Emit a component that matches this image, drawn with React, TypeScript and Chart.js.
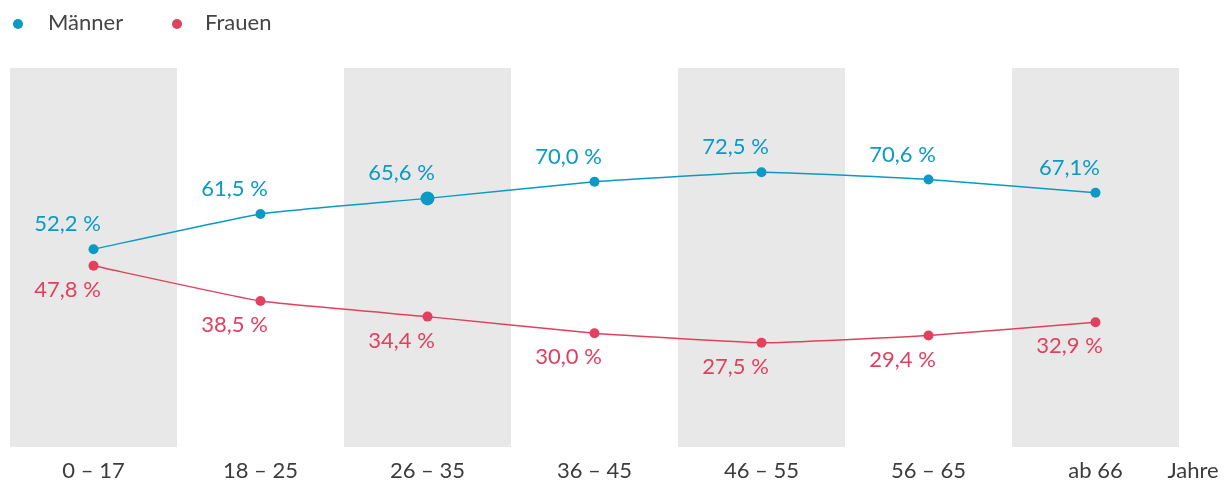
import React, { useEffect, useRef } from "react";
import { Chart, registerables } from "chart.js";
Chart.register(...registerables);

const categories = ["0 – 17", "18 – 25", "26 – 35", "36 – 45", "46 – 55", "56 – 65", "ab 66"];
const maenner = [52.2, 61.5, 65.6, 70.0, 72.5, 70.6, 67.1];
const frauen = [47.8, 38.5, 34.4, 30.0, 27.5, 29.4, 32.9];
const maennerLabels = ["52,2 %", "61,5 %", "65,6 %", "70,0 %", "72,5 %", "70,6 %", "67,1%"];
const frauenLabels = ["47,8 %", "38,5 %", "34,4 %", "30,0 %", "27,5 %", "29,4 %", "32,9 %"];
const shadedCategories = [0, 2, 4, 6];
const axisTitle = "Jahre";

const BLUE = "#0a9ac5";
const RED = "#e0415f";
const BAND = "#e8e8e8";
const TEXT = "#3c3c3c";
const FONT = "Lato, 'Open Sans', sans-serif";

export default function App() {
  const ref = useRef<HTMLCanvasElement | null>(null);
  useEffect(() => {
    if (!ref.current) return;
    const bandsPlugin = {
      id: "bands",
      beforeDatasetsDraw(chart: any) {
        const { ctx, chartArea, scales } = chart;
        const x = scales.x;
        ctx.save();
        ctx.fillStyle = BAND;
        const half = (x.getPixelForValue(1) - x.getPixelForValue(0)) / 2;
        shadedCategories.forEach((i) => {
          const c = x.getPixelForValue(i);
          ctx.fillRect(c - half, chartArea.top, half * 2, chartArea.bottom - chartArea.top);
        });
        ctx.restore();
      },
    };
    const labelsPlugin = {
      id: "labelsPlugin",
      afterDatasetsDraw(chart: any) {
        const { ctx, scales } = chart;
        const x = scales.x;
        const y = scales.y;
        ctx.save();
        ctx.font = `22px ${FONT}`;
        ctx.textAlign = "center";
        ctx.textBaseline = "middle";
        maenner.forEach((v, i) => {
          ctx.fillStyle = BLUE;
          ctx.fillText(maennerLabels[i], x.getPixelForValue(i) - 26, y.getPixelForValue(v) - 25);
        });
        frauen.forEach((v, i) => {
          ctx.fillStyle = RED;
          ctx.fillText(frauenLabels[i], x.getPixelForValue(i) - 26, y.getPixelForValue(v) + 24);
        });
        // x tick labels
        ctx.fillStyle = TEXT;
        categories.forEach((c, i) => {
          ctx.fillText(c, x.getPixelForValue(i), 471);
        });
        ctx.fillText(axisTitle, 1193, 471);
        // legend
        ctx.textAlign = "left";
        ctx.fillStyle = BLUE;
        ctx.beginPath();
        ctx.arc(18, 24, 5, 0, Math.PI * 2);
        ctx.fill();
        ctx.fillStyle = "#444";
        ctx.fillText(chart.data.datasets[0].label, 48, 23);
        ctx.fillStyle = RED;
        ctx.beginPath();
        ctx.arc(177, 24, 5, 0, Math.PI * 2);
        ctx.fill();
        ctx.fillStyle = "#444";
        ctx.fillText(chart.data.datasets[1].label, 205, 23);
        ctx.restore();
      },
    };
    const chart = new Chart(ref.current, {
      type: "line",
      data: {
        labels: categories,
        datasets: [
          {
            label: "Männer",
            data: maenner,
            borderColor: BLUE,
            backgroundColor: BLUE,
            borderWidth: 1.5,
            pointRadius: [5, 5, 7, 5, 5, 5, 5],
            pointBorderWidth: 0,
            tension: 0.12,
          },
          {
            label: "Frauen",
            data: frauen,
            borderColor: RED,
            backgroundColor: RED,
            borderWidth: 1.5,
            pointRadius: 5,
            pointBorderWidth: 0,
            tension: 0.12,
          },
        ],
      },
      options: {
        responsive: false,
        animation: false,
        layout: { padding: { left: 10, right: 45, top: 68, bottom: 34 } },
        plugins: { legend: { display: false }, tooltip: { enabled: false } },
        scales: {
          x: { type: "category", offset: true, display: false },
          y: { min: 0, max: 100, display: false },
        },
      },
      plugins: [bandsPlugin, labelsPlugin],
    });
    return () => chart.destroy();
  }, []);
  return (
    <div style={{ position: "fixed", left: 0, top: 0, width: 1224, height: 481, background: "#fff" }}>
      <canvas ref={ref} width={1224} height={481} style={{ display: "block" }} />
    </div>
  );
}
